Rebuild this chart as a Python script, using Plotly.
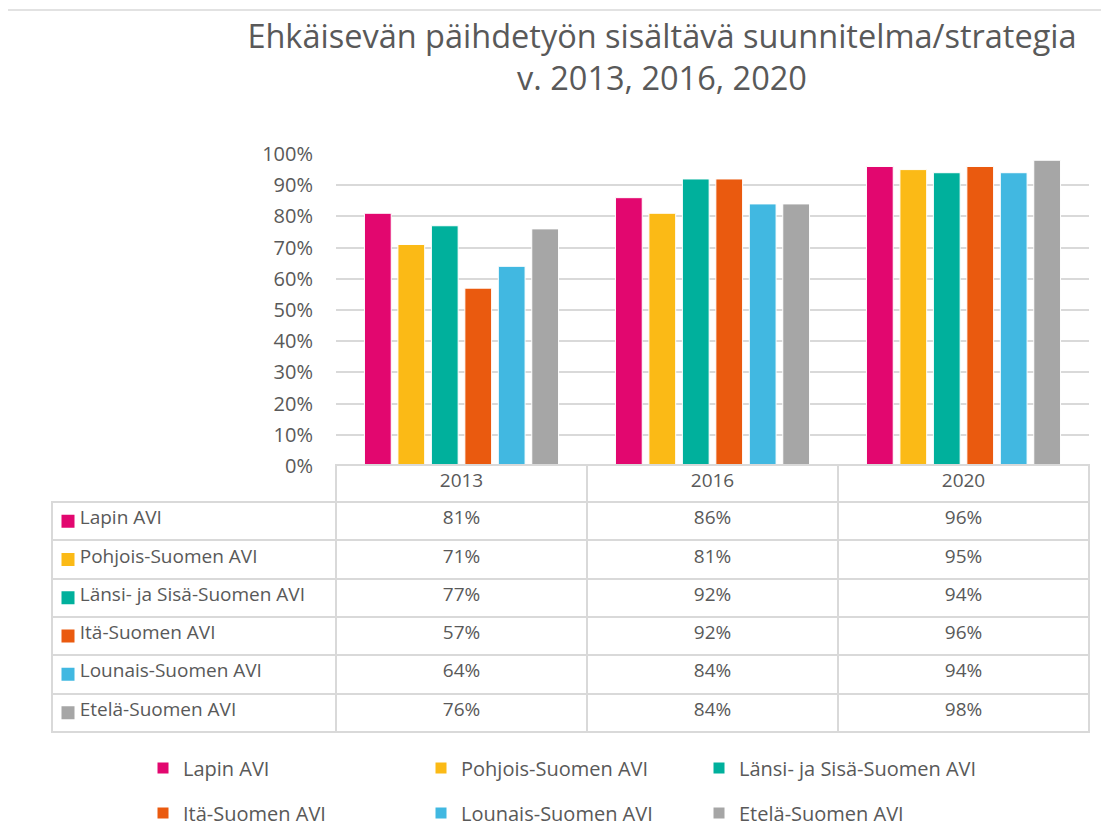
import plotly.graph_objects as go

years = ["2013", "2016", "2020"]
regions = [
    "Lapin AVI",
    "Pohjois-Suomen AVI",
    "Länsi- ja Sisä-Suomen AVI",
    "Itä-Suomen AVI",
    "Lounais-Suomen AVI",
    "Etelä-Suomen AVI",
]
lapin = [0.81, 0.86, 0.96]
pohjois = [0.71, 0.81, 0.95]
lansi = [0.77, 0.92, 0.94]
ita = [0.57, 0.92, 0.96]
lounais = [0.64, 0.84, 0.94]
etela = [0.76, 0.84, 0.98]
colors = ["#E2076F", "#FBBA16", "#00B09C", "#EA5A0F", "#41B8E1", "#A6A6A6"]

values = [lapin, pohjois, lansi, ita, lounais, etela]

W, H = 1109, 839
OFF = 8  # page body margin
GREY = "#595959"
LINE = "#D9D9D9"
FONT = "Open Sans"
ROW_H = 38.3
TABLE_TOP = 465
HEAD_H = 37


def px_x(p):
    return (p - OFF) / W


def px_y(p):
    return 1 - (p - OFF) / H


fig = go.Figure()

for i, (name, vals, col) in enumerate(zip(regions, values, colors)):
    fig.add_trace(
        go.Bar(
            x=years,
            y=vals,
            name=name,
            marker={"color": col, "line": {"color": "white", "width": 1}},
            legend="legend" if i < 3 else "legend2",
            hovertemplate="%{y:.0%}<extra>" + name + "</extra>",
        )
    )

# data table under the chart (nbsp so the table doesn't try to wrap)
label_col = ["\u00a0" * 4 + n.replace(" ", "\u00a0") for n in regions]
year_cols = [[f"{v[j]:.0%}" for v in values] for j in range(len(years))]

body_top = TABLE_TOP + HEAD_H
body_bot = body_top + ROW_H * len(regions)

fig.add_trace(
    go.Table(
        domain={"x": [px_x(52), px_x(1089)], "y": [px_y(body_bot + 6), px_y(TABLE_TOP)]},
        columnwidth=[284, 251, 251, 251],
        header={
            "values": [""] + years,
            "height": HEAD_H,
            "align": "center",
            "fill": {"color": ["rgba(0,0,0,0)", "white", "white", "white"]},
            "line": {"color": LINE, "width": [0, 2, 2, 2]},
            "font": {"family": FONT, "size": 19, "color": GREY},
        },
        cells={
            "values": [label_col] + year_cols,
            "height": ROW_H,
            "align": ["left", "center", "center", "center"],
            "fill": {"color": ["rgba(0,0,0,0)", "white", "white", "white"]},
            "line": {"color": LINE, "width": 2},
            "font": {"family": FONT, "size": 19, "color": GREY},
        },
    )
)

# colour keys in the table's label column
fig.add_trace(
    go.Scatter(
        x=[0] * len(regions),
        y=regions,
        mode="markers",
        marker={"symbol": "square", "size": 13, "color": colors, "line": {"width": 0}},
        xaxis="x2",
        yaxis="y2",
        showlegend=False,
        hoverinfo="skip",
    )
)

legend_common = {
    "orientation": "h",
    "font": {"family": FONT, "size": 20, "color": GREY},
    "entrywidth": 233,
    "entrywidthmode": "pixels",
    "bgcolor": "rgba(0,0,0,0)",
    "xanchor": "left",
    "yanchor": "middle",
}

hidden = {
    "visible": False,
    "showgrid": False,
    "zeroline": False,
    "automargin": False,
}

fig.update_layout(
    template="none",
    width=W,
    height=H,
    margin={"l": 0, "r": 0, "t": 0, "b": 0, "autoexpand": False},
    paper_bgcolor="white",
    plot_bgcolor="rgba(0,0,0,0)",
    font={"family": FONT, "color": GREY},
    title={
        "text": "Ehkäisevän päihdetyön sisältävä suunnitelma/strategia<br>v. 2013, 2016, 2020",
        "x": px_x(662),
        "xanchor": "center",
        "xref": "paper",
        "y": px_y(48),
        "yanchor": "top",
        "yref": "paper",
        "font": {"family": FONT, "size": 32.5, "color": GREY},
    },
    barmode="group",
    bargap=0.2,
    bargroupgap=0.2,
    xaxis={
        "type": "category",
        "domain": [px_x(336), px_x(1089)],
        "showticklabels": False,
        "showgrid": False,
        "zeroline": False,
        "showline": False,
        "ticks": "",
        "automargin": False,
    },
    yaxis={
        "domain": [px_y(466), px_y(154)],
        "range": [0, 1.0],
        "dtick": 0.1,
        "tickformat": ".0%",
        "showgrid": True,
        "gridcolor": LINE,
        "gridwidth": 1.5,
        "zeroline": False,
        "showline": False,
        "ticks": "",
        "automargin": False,
        "ticklabelstandoff": 22,
        "tickfont": {"family": FONT, "size": 20, "color": GREY},
    },
    xaxis2={**hidden, "domain": [px_x(52), px_x(336)], "range": [-16, 268], "anchor": "y2"},
    yaxis2={
        **hidden,
        "domain": [px_y(body_bot), px_y(body_top)],
        "type": "category",
        "categoryorder": "array",
        "categoryarray": regions,
        "range": [len(regions) - 0.5, -0.5],
        "anchor": "x2",
    },
    legend={**legend_common, "x": px_x(143), "y": px_y(768)},
    legend2={**legend_common, "x": px_x(143), "y": px_y(813)},
    shapes=[
        {
            "type": "rect",
            "xref": "paper",
            "yref": "paper",
            "x0": px_x(7),
            "x1": 1.2,
            "y0": -0.2,
            "y1": px_y(10),
            "line": {"color": LINE, "width": 1.5},
            "layer": "below",
        }
    ],
)

fig.write_html("out.html")
